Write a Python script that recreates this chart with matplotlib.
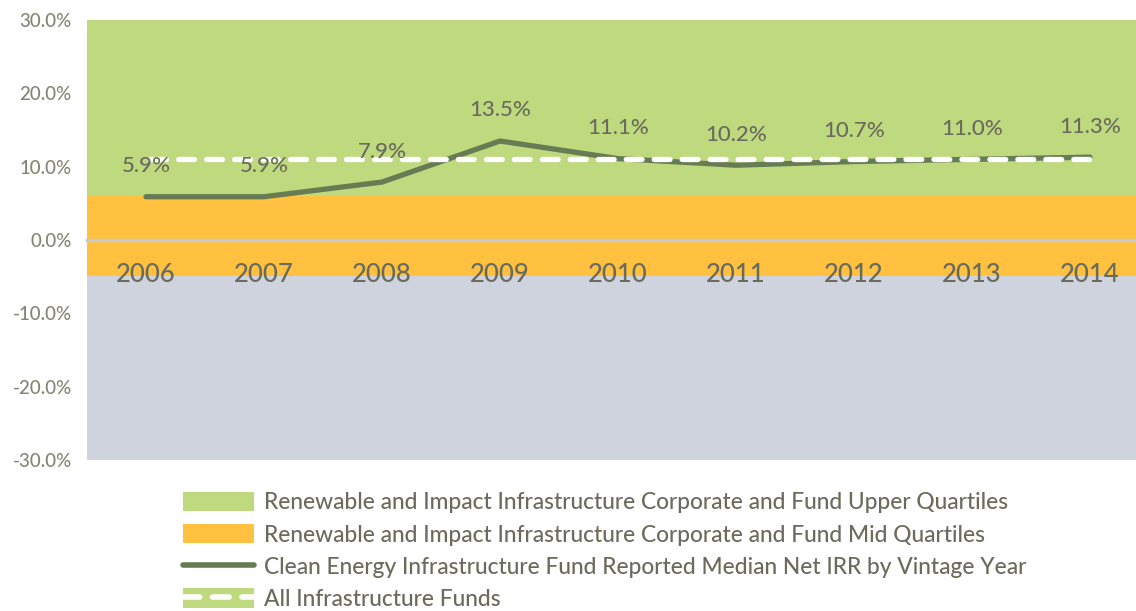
import matplotlib
matplotlib.use("Agg")
import matplotlib.pyplot as plt
from matplotlib.patches import Patch
from matplotlib.lines import Line2D
from matplotlib.ticker import FuncFormatter

plt.rcParams['font.family'] = ['Lato', 'DejaVu Sans']
plt.rcParams['font.weight'] = 'medium'

years = ['2006', '2007', '2008', '2009', '2010', '2011', '2012', '2013', '2014']
clean_energy_irr = [5.9, 5.9, 7.9, 13.5, 11.1, 10.2, 10.7, 11.0, 11.3]
all_infra = [11.0, 11.0, 11.0, 11.0, 11.0, 11.0, 11.0, 11.0, 11.0]
band_lower = [-30.0, -4.9, 6.0]   # grey, mid quartiles, upper quartiles
band_upper = [-4.9, 6.0, 30.0]
yticks = [-30, -20, -10, 0, 10, 20, 30]

GREEN = '#bfd97f'
ORANGE = '#ffc13f'
GREY = '#cfd3de'
LINE = '#677c53'
TEXT = '#6b6b5d'
YTEXT = '#858575'
band_colors = [GREY, ORANGE, GREEN]

fig = plt.figure(figsize=(11.36, 6.11), dpi=100)
ax = fig.add_axes([87/1136, 1-460/611, (1149-87)/1136, 440/611])

x = list(range(len(years)))
for lo, hi, c in zip(band_lower, band_upper, band_colors):
    ax.axhspan(lo, hi, color=c, lw=0, zorder=0)

ax.plot(x, clean_energy_irr, color=LINE, lw=3.8, solid_capstyle='round',
        solid_joinstyle='round', zorder=3)
ax.plot(x, all_infra, color='white', lw=3.8, linestyle=(4.5, (3.0, 2.3)),
        dash_capstyle='round', zorder=4)

for xi, v in zip(x, clean_energy_irr):
    ax.annotate(f'{v:.1f}%', (xi, v), xytext=(0, 22), textcoords='offset points',
                ha='center', va='center', fontsize=16, color=TEXT, zorder=5)

ax.set_xlim(-0.5, len(years) - 0.5)
ax.set_ylim(-30, 30)
ax.set_yticks(yticks)
ax.yaxis.set_major_formatter(FuncFormatter(lambda v, p: f'{v:.1f}%'))
ax.set_xticks(x)
ax.set_xticklabels(years)

for s in ['top', 'right', 'left']:
    ax.spines[s].set_visible(False)
ax.spines['bottom'].set_position(('data', 0))
ax.spines['bottom'].set_color('#c9c9c9')
ax.spines['bottom'].set_linewidth(2.5)
ax.spines['bottom'].set_zorder(2)

ax.tick_params(axis='x', length=0, pad=16, labelsize=18.5, labelcolor=TEXT)
ax.tick_params(axis='y', length=0, pad=11, labelsize=13.5, labelcolor=YTEXT)

handles = [
    Patch(facecolor=GREEN, edgecolor='none'),
    Patch(facecolor=ORANGE, edgecolor='none'),
    Line2D([0], [0], color=LINE, lw=4, solid_capstyle='round'),
    (Patch(facecolor=GREEN, edgecolor='none'),
     Line2D([0], [0], color='white', lw=4, dashes=(3.0, 2.3), dash_capstyle='round')),
]
labels = [
    'Renewable and Impact Infrastructure Corporate and Fund Upper Quartiles',
    'Renewable and Impact Infrastructure Corporate and Fund Mid Quartiles',
    'Clean Energy Infrastructure Fund Reported Median Net IRR by Vintage Year',
    'All Infrastructure Funds',
]
leg = fig.legend(handles, labels, loc='upper left', bbox_to_anchor=(183/1136, 1-492/611),
                 frameon=False, fontsize=16.4, labelcolor=TEXT, handlelength=3.1,
                 handleheight=0.92, handletextpad=0.45, labelspacing=0.47,
                 borderpad=0, borderaxespad=0)

fig.savefig('out.png', dpi=100)
